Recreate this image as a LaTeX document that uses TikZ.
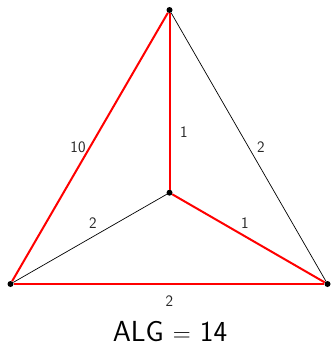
\documentclass[tikz,border=0pt]{standalone}
\begin{document}
\begin{tikzpicture}[x=1pt,y=-1pt,
  vert/.style={circle,fill=black,inner sep=0pt,minimum size=6pt},
  thin edge/.style={draw=black,line width=0.7pt},
  red edge/.style={draw=red,line width=2pt},
  lbl/.style={font=\sffamily\fontsize{16}{18}\selectfont,text=black!85,inner sep=0pt}]
\useasboundingbox (0,0) rectangle (331,345);
\node[vert] (t) at (169.5,10) {};
\node[vert] (c) at (169.5,192.7) {};
\node[vert] (l) at (10.5,284) {};
\node[vert] (r) at (327.5,284) {};
\draw[thin edge] (t) -- (r);
\draw[thin edge] (l) -- (c);
\draw[red edge] (t) -- (l);
\draw[red edge] (t) -- (c);
\draw[red edge] (c) -- (r);
\draw[red edge] (l) -- (r);
\node[lbl] (w1) at (78,147) {10};
\node[lbl] (w2) at (184,132) {1};
\node[lbl] (w3) at (261,147) {2};
\node[lbl] (w4) at (93,223) {2};
\node[lbl] (w5) at (245,223) {1};
\node[lbl] (w6) at (169.5,301) {2};
\node[font=\sffamily\fontsize{29}{32}\selectfont,inner sep=0pt,text depth=0pt,anchor=base] (alg) at (170,341.5) {ALG $=$ 14};
\end{tikzpicture}
\end{document}
